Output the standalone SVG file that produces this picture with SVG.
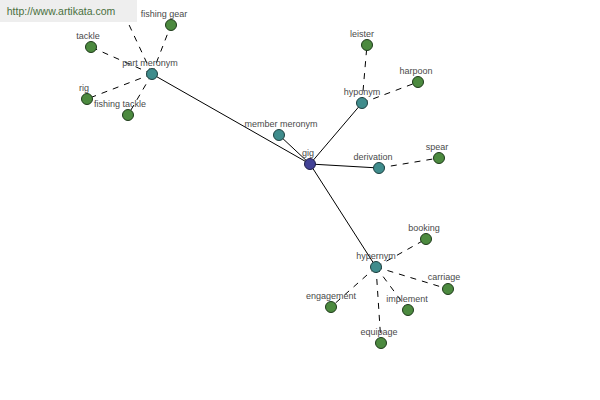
<svg xmlns="http://www.w3.org/2000/svg" width="600" height="400" viewBox="0 0 600 400">
<style>
.s{stroke:#000;stroke-width:1;fill:none}
.d{stroke:#000;stroke-width:1;fill:none;stroke-dasharray:6,6}
.leaf{fill:#4c8a3f;stroke:#1e3a1a;stroke-width:1}
.rel{fill:#3f8c8c;stroke:#1d4040;stroke-width:1}
.root{fill:#424296;stroke:#1e1e4a;stroke-width:1}
text{font-family:"Liberation Sans",Arial,sans-serif;font-size:9px;fill:#4a4a4a;text-anchor:middle}
</style>
<rect width="600" height="400" fill="#fff"/>
<g id="connectors">
<line class="s" x1="310" y1="164" x2="152" y2="74"/>
<line class="s" x1="310" y1="164" x2="279" y2="135"/>
<line class="s" x1="310" y1="164" x2="362" y2="103"/>
<line class="s" x1="310" y1="164" x2="379" y2="168"/>
<line class="s" x1="310" y1="164" x2="376" y2="267"/>
<line class="d" x1="152" y1="74" x2="91" y2="47"/>
<line class="d" x1="152" y1="74" x2="171" y2="25"/>
<line class="d" x1="152" y1="74" x2="87" y2="99"/>
<line class="d" x1="152" y1="74" x2="128" y2="115"/>
<line class="d" x1="152" y1="74" x2="124" y2="14"/>
<line class="d" x1="362" y1="103" x2="367" y2="45"/>
<line class="d" x1="362" y1="103" x2="418" y2="82"/>
<line class="d" x1="379" y1="168" x2="439" y2="158"/>
<line class="d" x1="376" y1="267" x2="426" y2="239"/>
<line class="d" x1="376" y1="267" x2="448" y2="289"/>
<line class="d" x1="376" y1="267" x2="408" y2="310"/>
<line class="d" x1="376" y1="267" x2="331" y2="307"/>
<line class="d" x1="376" y1="267" x2="381" y2="343"/>
</g>
<g id="watermark">
<rect x="0" y="0" width="137" height="22" fill="#eeeeee"/>
<text x="61" y="15" style="font-size:10.5px;fill:#4a7040">http://www.artikata.com</text>
</g>
<g id="gig"><circle class="root" cx="310" cy="164" r="5.5"/><text x="308" y="156">gig</text></g>
<g id="part-meronym"><circle class="rel" cx="152" cy="74" r="5.5"/><text x="150" y="66">part meronym</text></g>
<g id="member-meronym"><circle class="rel" cx="279" cy="135" r="5.5"/><text x="281" y="127">member meronym</text></g>
<g id="hyponym"><circle class="rel" cx="362" cy="103" r="5.5"/><text x="362" y="95">hyponym</text></g>
<g id="derivation"><circle class="rel" cx="379" cy="168" r="5.5"/><text x="373" y="160">derivation</text></g>
<g id="hypernym"><circle class="rel" cx="376" cy="267" r="5.5"/><text x="376" y="259">hypernym</text></g>
<g id="tackle"><circle class="leaf" cx="91" cy="47" r="5.5"/><text x="88" y="39">tackle</text></g>
<g id="fishing-gear"><circle class="leaf" cx="171" cy="25" r="5.5"/><text x="164" y="17">fishing gear</text></g>
<g id="rig"><circle class="leaf" cx="87" cy="99" r="5.5"/><text x="84" y="91">rig</text></g>
<g id="fishing-tackle"><circle class="leaf" cx="128" cy="115" r="5.5"/><text x="120" y="107">fishing tackle</text></g>
<g id="leister"><circle class="leaf" cx="367" cy="45" r="5.5"/><text x="362" y="37">leister</text></g>
<g id="harpoon"><circle class="leaf" cx="418" cy="82" r="5.5"/><text x="416" y="74">harpoon</text></g>
<g id="spear"><circle class="leaf" cx="439" cy="158" r="5.5"/><text x="437" y="150">spear</text></g>
<g id="booking"><circle class="leaf" cx="426" cy="239" r="5.5"/><text x="424" y="231">booking</text></g>
<g id="carriage"><circle class="leaf" cx="448" cy="289" r="5.5"/><text x="444" y="280">carriage</text></g>
<g id="implement"><circle class="leaf" cx="408" cy="310" r="5.5"/><text x="407" y="302">implement</text></g>
<g id="engagement"><circle class="leaf" cx="331" cy="307" r="5.5"/><text x="331" y="299">engagement</text></g>
<g id="equipage"><circle class="leaf" cx="381" cy="343" r="5.5"/><text x="379" y="335">equipage</text></g>
</svg>
